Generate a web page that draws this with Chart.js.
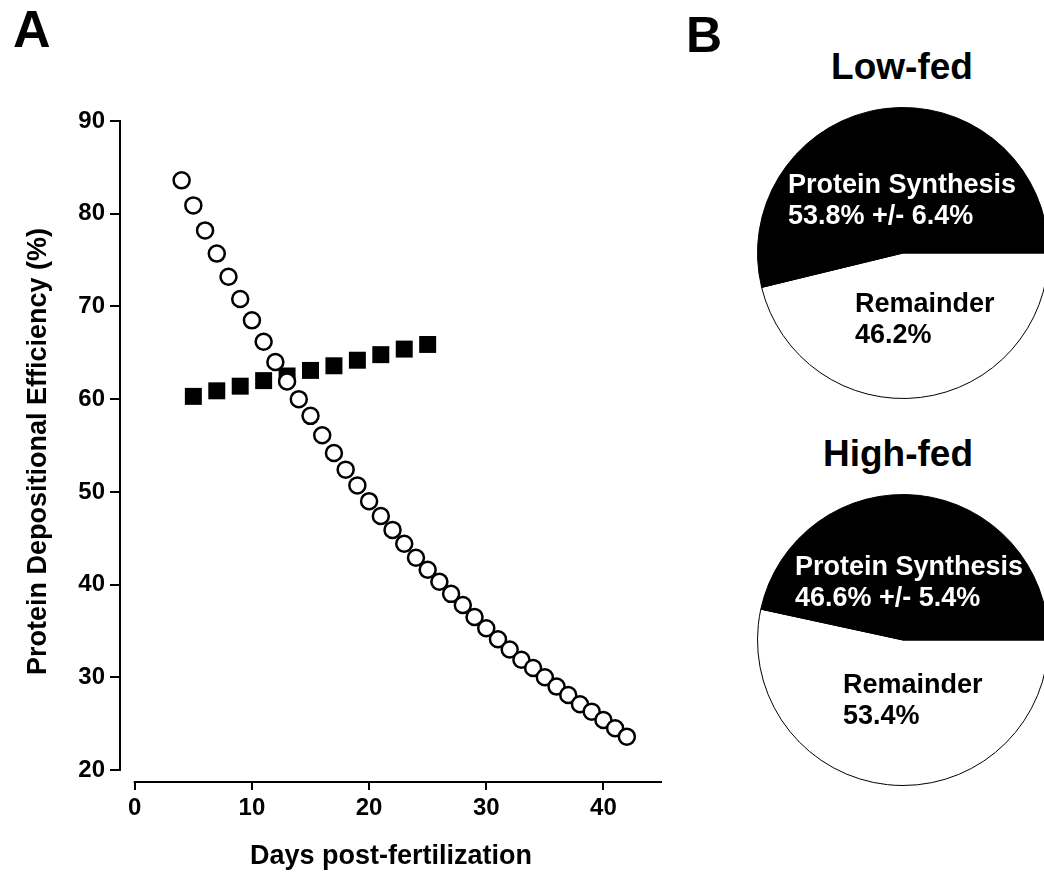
<!DOCTYPE html>
<html>
<head>
<meta charset="utf-8">
<script src="https://cdn.jsdelivr.net/npm/chart.js@4.4.1/dist/chart.umd.min.js"></script>
<style>
  html, body { margin: 0; padding: 0; background: #fff; }
  #page { position: relative; width: 1044px; height: 882px; overflow: hidden;
          font-family: 'Liberation Sans', Arial, sans-serif; font-weight: bold; color: #000; }
  canvas, .lbl { position: absolute; }
  .lbl { line-height: 1; white-space: nowrap; }
</style>
</head>
<body>
<div id="page">
  <div class="lbl" style="left:13px;top:3px;font-size:52px">A</div>
  <div class="lbl" style="left:686px;top:10px;font-size:50px">B</div>
  <div class="lbl" style="left:752px;top:48px;width:300px;text-align:center;font-size:37px">Low-fed</div>
  <div class="lbl" style="left:748px;top:435px;width:300px;text-align:center;font-size:37px">High-fed</div>
  <canvas id="scatter" width="700" height="882" style="left:0;top:0"></canvas>
  <canvas id="lowPie" width="320" height="320" style="left:743px;top:93px"></canvas>
  <canvas id="highPie" width="320" height="320" style="left:743px;top:480px"></canvas>
</div>
<script>
const family = "'Liberation Sans', Arial, sans-serif";

// ---- panel A data ----
const circleDays = [4, 5, 6, 7, 8, 9, 10, 11, 12, 13, 14, 15, 16, 17, 18, 19, 20, 21, 22, 23,
  24, 25, 26, 27, 28, 29, 30, 31, 32, 33, 34, 35, 36, 37, 38, 39, 40, 41, 42];
const circleValues = [83.6, 80.9, 78.2, 75.7, 73.2, 70.8, 68.5, 66.2, 64.0, 61.9, 60.0, 58.2,
  56.1, 54.2, 52.4, 50.7, 49.0, 47.4, 45.9, 44.4, 42.9, 41.6, 40.3, 39.0, 37.8, 36.5, 35.3,
  34.1, 33.0, 31.9, 31.0, 30.0, 29.0, 28.1, 27.1, 26.3, 25.4, 24.5, 23.6];
const squareDays = [5, 7, 9, 11, 13, 15, 17, 19, 21, 23, 25];
const squareValues = [60.3, 60.9, 61.4, 62.0, 62.5, 63.1, 63.6, 64.2, 64.8, 65.4, 65.9];
const xTicks = [0, 10, 20, 30, 40];
const yTicks = [20, 30, 40, 50, 60, 70, 80, 90];

// ---- panel B data ----
const pieLabels = ['Remainder', 'Protein Synthesis'];
const lowFedValues = [46.2, 53.8];
const lowFedSD = 6.4;
const highFedValues = [53.4, 46.6];
const highFedSD = 5.4;

// axis lines drawn apart from each other, like the original figure
const spines = {
  id: 'spines',
  beforeDatasetsDraw(chart) {
    const { ctx, chartArea, scales: { x, y } } = chart;
    ctx.save();
    ctx.strokeStyle = '#000';
    ctx.lineWidth = 2;
    ctx.beginPath();
    ctx.moveTo(chartArea.left, y.getPixelForValue(yTicks[0]) + 1);
    ctx.lineTo(chartArea.left, y.getPixelForValue(yTicks[yTicks.length - 1]) - 1);
    ctx.moveTo(x.getPixelForValue(xTicks[0]) - 1, chartArea.bottom);
    ctx.lineTo(x.getPixelForValue(x.max), chartArea.bottom);
    ctx.stroke();
    ctx.restore();
  }
};

const tickFont = { family, size: 24, weight: 'bold' };
const titleFont = { family, size: 27, weight: 'bold' };

new Chart(document.getElementById('scatter'), {
  type: 'scatter',
  data: {
    datasets: [
      {
        label: 'Predicted',
        data: circleDays.map((d, i) => ({ x: d, y: circleValues[i] })),
        pointStyle: 'circle',
        pointRadius: 8,
        pointBorderWidth: 2.5,
        pointBackgroundColor: '#fff',
        pointBorderColor: '#000'
      },
      {
        label: 'Measured',
        data: squareDays.map((d, i) => ({ x: d, y: squareValues[i] })),
        pointStyle: 'rect',
        pointRadius: 12,
        pointBorderWidth: 0,
        pointBackgroundColor: '#000',
        pointBorderColor: '#000'
      }
    ]
  },
  options: {
    responsive: false,
    animation: false,
    layout: { padding: { left: 0, top: 121, right: 38, bottom: 0 } },
    plugins: { legend: { display: false }, tooltip: { enabled: false } },
    scales: {
      x: {
        type: 'linear',
        min: -1.26,
        max: 45,
        afterFit: s => { s.height = 100; },
        afterBuildTicks: s => { s.ticks = xTicks.map(v => ({ value: v })); },
        grid: { display: true, drawOnChartArea: false, drawTicks: true, tickLength: 8, color: '#000', lineWidth: 2 },
        border: { display: false },
        ticks: { color: '#000', font: tickFont, padding: 4, maxRotation: 0 },
        title: { display: true, text: 'Days post-fertilization', color: '#000', font: titleFont, padding: { bottom: 9 } }
      },
      y: {
        type: 'linear',
        min: 18.71,
        max: 90,
        afterFit: s => { s.width = 120; },
        afterBuildTicks: s => { s.ticks = yTicks.map(v => ({ value: v })); },
        grid: { display: true, drawOnChartArea: false, drawTicks: true, tickLength: 10, color: '#000', lineWidth: 2 },
        border: { display: false },
        ticks: { color: '#000', font: tickFont, padding: 5 },
        title: { display: true, text: 'Protein Depositional Efficiency (%)', color: '#000', font: titleFont, padding: { top: 22 } }
      }
    }
  },
  plugins: [spines]
});

// text written inside the pies
const pieText = {
  id: 'pieText',
  afterDatasetsDraw(chart, args, opts) {
    const arc = chart.getDatasetMeta(0).data[0];
    const ctx = chart.ctx;
    ctx.save();
    ctx.font = 'bold 27px ' + family;
    ctx.textAlign = 'left';
    ctx.textBaseline = 'alphabetic';
    opts.lines.forEach(l => {
      ctx.fillStyle = l.color;
      ctx.fillText(l.text, arc.x + l.dx, arc.y + l.dy);
    });
    ctx.restore();
  }
};

function makePie(id, values, sd, pos) {
  const lines = [
    { text: pieLabels[1], color: '#fff', dx: pos[0], dy: pos[1] },
    { text: values[1].toFixed(1) + '% +/- ' + sd.toFixed(1) + '%', color: '#fff', dx: pos[0], dy: pos[1] + 31 },
    { text: pieLabels[0], color: '#000', dx: pos[2], dy: pos[3] },
    { text: values[0].toFixed(1) + '%', color: '#000', dx: pos[2], dy: pos[3] + 31 }
  ];
  new Chart(document.getElementById(id), {
    type: 'pie',
    data: {
      labels: pieLabels,
      datasets: [{ data: values, backgroundColor: ['#fff', '#000'], borderColor: '#000', borderWidth: 1 }]
    },
    options: {
      responsive: false,
      animation: false,
      rotation: 90,
      layout: { padding: 14 },
      plugins: { legend: { display: false }, tooltip: { enabled: false }, pieText: { lines } }
    },
    plugins: [pieText]
  });
}

makePie('lowPie', lowFedValues, lowFedSD, [-115, -60, -48, 59]);
makePie('highPie', highFedValues, highFedSD, [-108, -65, -60, 53]);
</script>
</body>
</html>
